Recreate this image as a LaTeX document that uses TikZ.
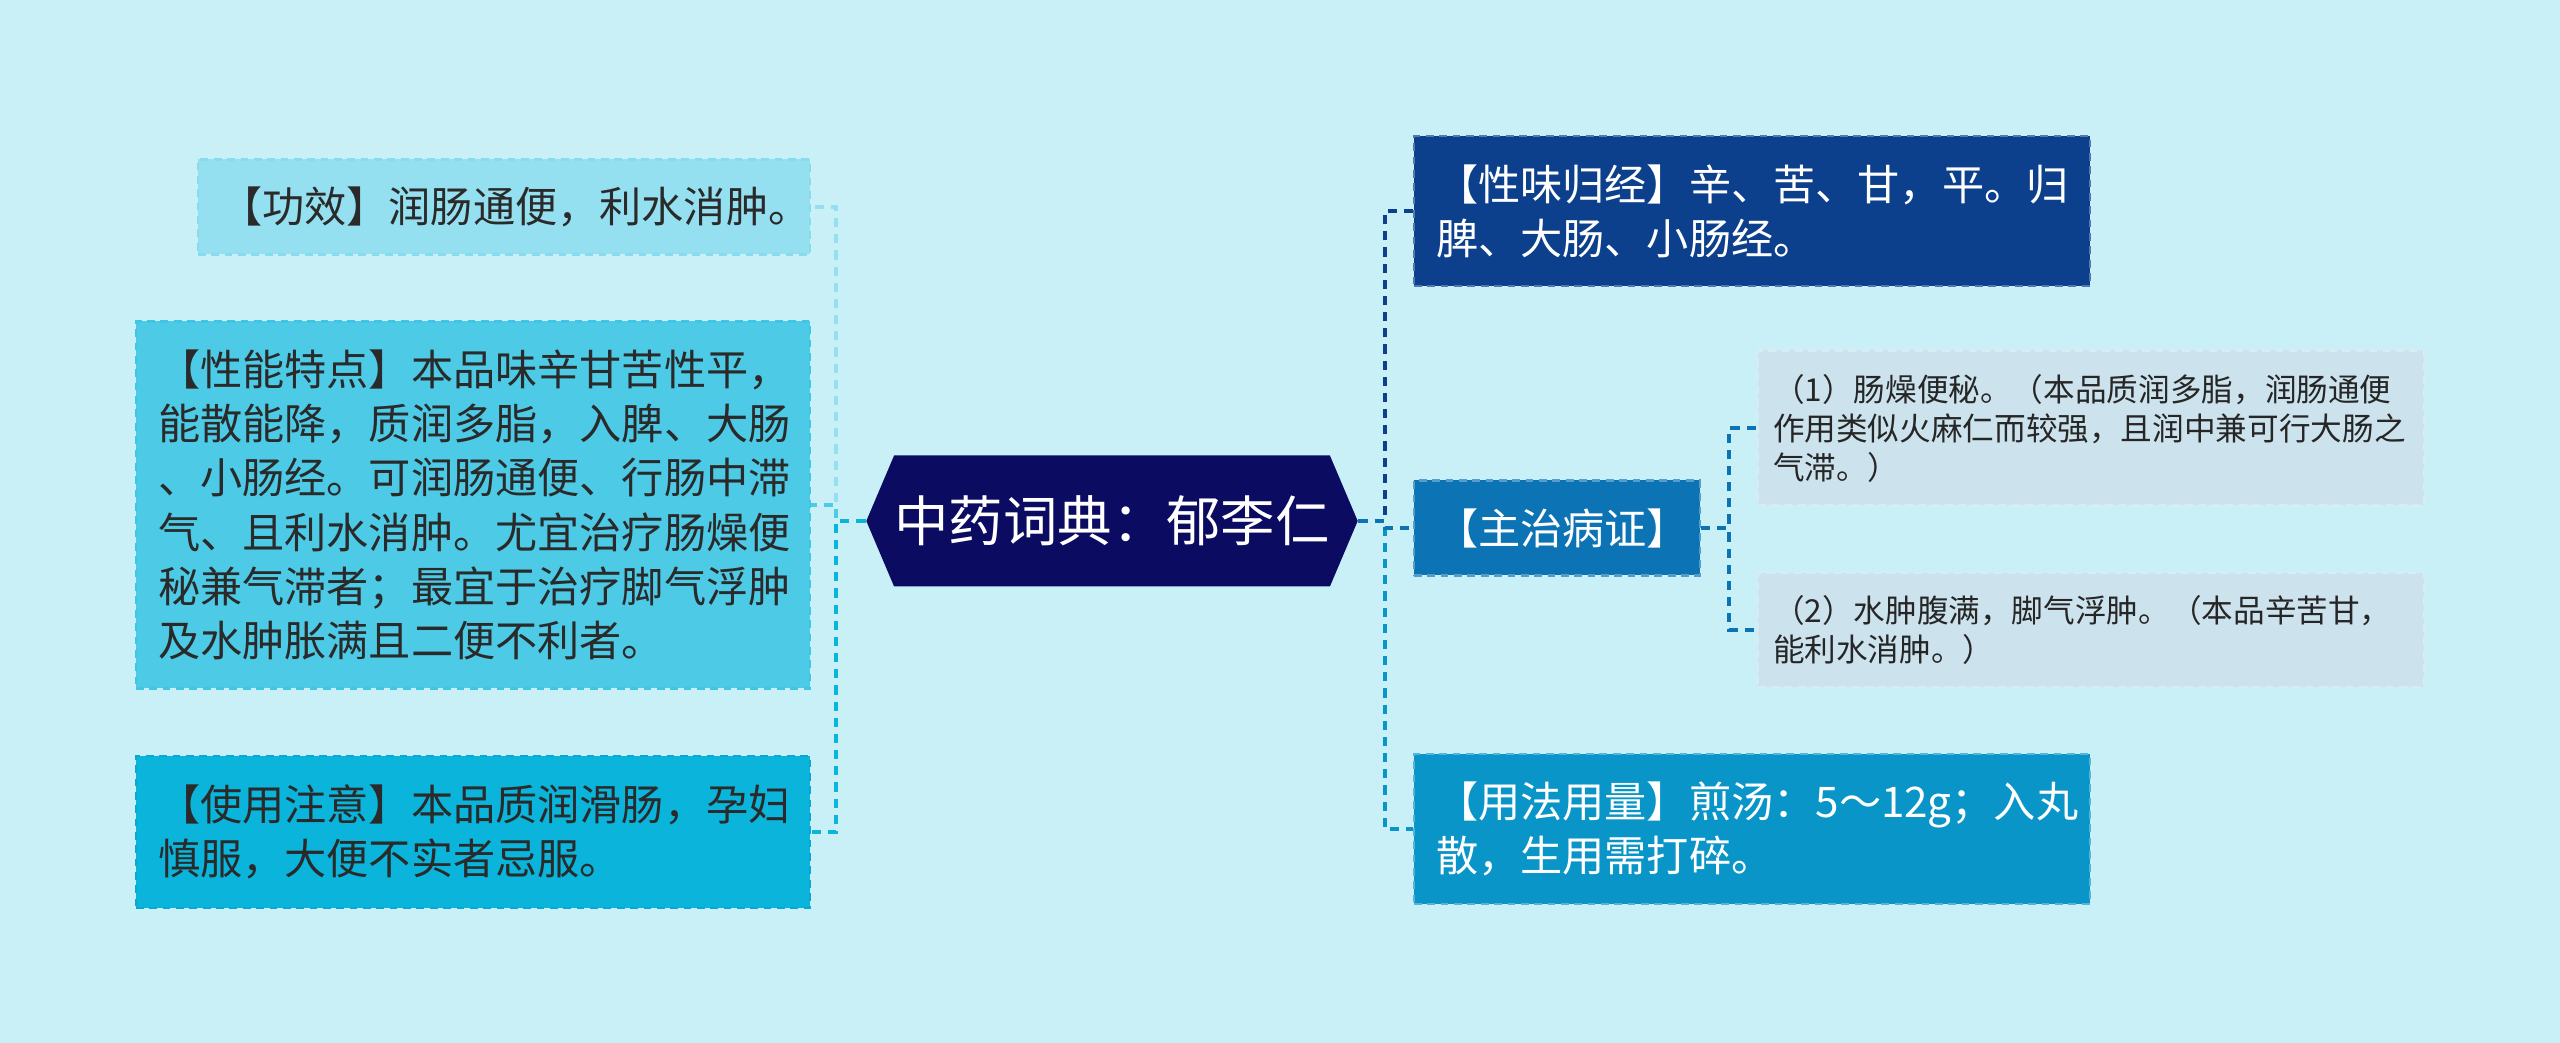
\documentclass[tikz,border=0pt]{standalone}
\usepackage{fontspec}
\usepackage{tikz}
\usetikzlibrary{shapes.symbols}
\newfontfamily\cjk{Noto Sans CJK SC}
\definecolor{sfondo}{HTML}{C9F0F7}
\definecolor{cGx}{HTML}{95E0F0}
\definecolor{cXn}{HTML}{4CCAE6}
\definecolor{cZy}{HTML}{0AB4DA}
\definecolor{cHex}{HTML}{0B0B62}
\definecolor{cXw}{HTML}{0C3F8C}
\definecolor{cZz}{HTML}{0C73B4}
\definecolor{cSub}{HTML}{CCE3EE}
\definecolor{cYf}{HTML}{0995C8}
\definecolor{testo}{HTML}{2A2A2A}

\begin{document}
\begin{tikzpicture}[
  box/.style={rectangle, dash pattern=on 2.2pt off 1.6pt, line width=0.6pt,
    inner xsep=0.22cm, inner ysep=0pt, align=left,
    font=\cjk\fontsize{12}{15.4}\selectfont},
  sub/.style={box, fill=cSub, draw=cSub!70!white, text=black!85, inner xsep=0.15cm,
    text width=6.36cm, font=\cjk\fontsize{9}{11.1}\selectfont},
  link/.style={dash pattern=on 2.6pt off 2pt, line width=1.1pt}]

\fill[sfondo] (0,0) rectangle (25.6,-10.43);

% Mappa: nodo centrale e rami
\node[signal, signal to=west and east, signal pointer angle=134, fill=cHex, text=white,
  minimum width=4.9cm, minimum height=1.31cm, inner sep=0pt,
  font=\cjk\fontsize{15.5}{18}\selectfont] (centro) at (11.12,-5.21) {中药词典：郁李仁};

\node[box, fill=cGx, draw=cGx!80!cXn, text=testo, text width=5.68cm, align=center,
  minimum height=0.95cm] (gongxiao) at (5.04,-2.07) {【功效】润肠通便，利水消肿。};
\node[box, fill=cXn, draw=cXn!80!cZy, text=testo, text width=6.3cm,
  minimum height=3.67cm] (xingneng) at (4.73,-5.05)
  {【性能特点】本品味辛甘苦性平，\\能散能降，质润多脂，入脾、大肠\\、小肠经。可润肠通便、行肠中滞\\气、且利水消肿。尤宜治疗肠燥便\\秘兼气滞者；最宜于治疗脚气浮肿\\及水肿胀满且二便不利者。};
\node[box, fill=cZy, draw=cZy!80!cZz, text=testo, text width=6.3cm,
  minimum height=1.52cm] (zhuyi) at (4.73,-8.32)
  {【使用注意】本品质润滑肠，孕妇\\慎服，大便不实者忌服。};

\node[box, fill=cXw, draw=cXw!70!white, text=white, text width=6.32cm,
  minimum height=1.5cm] (xingwei) at (17.52,-2.11)
  {【性味归经】辛、苦、甘，平。归\\脾、大肠、小肠经。};
\node[box, fill=cZz, draw=cZz!70!white, text=white, text width=2.42cm, align=center,
  minimum height=0.95cm] (zhuzhi) at (15.57,-5.28) {【主治病证】};
\node[box, fill=cYf, draw=cYf!70!white, text=white, text width=6.32cm,
  minimum height=1.5cm] (yongfa) at (17.52,-8.29)
  {【用法用量】煎汤：5～12g；入丸\\散，生用需打碎。};

\node[sub, minimum height=1.55cm] (zz1) at (20.91,-4.28)
  {（1）肠燥便秘。（本品质润多脂，润肠通便\\作用类似火麻仁而较强，且润中兼可行大肠之\\气滞。）};
\node[sub, minimum height=1.14cm] (zz2) at (20.91,-6.30)
  {（2）水肿腹满，脚气浮肿。（本品辛苦甘，\\能利水消肿。）};

\coordinate (sx) at (8.36,-5.21);
\coordinate (dx) at (13.85,-5.21);
\coordinate (zx) at (17.29,-5.28);

\draw[link, draw=cGx] (centro.west) -- (sx) |- (gongxiao.east);
\draw[link, draw=cXn] (centro.west) -- (sx) |- (xingneng.east);
\draw[link, draw=cZy] (centro.west) -- (sx) |- (zhuyi.east);

\draw[link, draw=cXw] (centro.east) -- (dx) |- (xingwei.west);
\draw[link, draw=cYf] (centro.east) -- (dx) |- (yongfa.west);
\draw[link, draw=cZz] (centro.east) -- (dx) |- (zhuzhi.west);

\draw[link, draw=cZz] (zhuzhi.east) -- (zx) |- (zz1.west);
\draw[link, draw=cZz] (zhuzhi.east) -- (zx) |- (zz2.west);

\end{tikzpicture}
\end{document}
